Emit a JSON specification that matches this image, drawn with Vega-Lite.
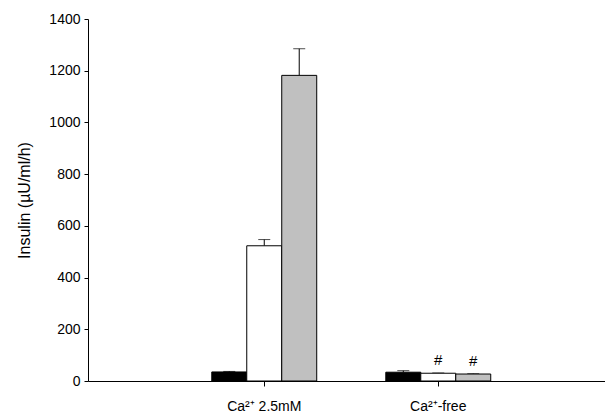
{
  "$schema": "https://vega.github.io/schema/vega-lite/v6.json",
  "width": 517,
  "height": 362,
  "autosize": "none",
  "padding": {"left": 88, "top": 19, "right": 0, "bottom": 36},
  "background": "white",
  "config": {
    "view": {"stroke": null},
    "font": "Liberation Sans"
  },
  "data": {
    "values": [
      {"condition": "Ca²⁺ 2.5mM", "group": "A", "insulin": 35, "upper": 37, "sig": ""},
      {"condition": "Ca²⁺ 2.5mM", "group": "B", "insulin": 523, "upper": 547, "sig": ""},
      {"condition": "Ca²⁺ 2.5mM", "group": "C", "insulin": 1182, "upper": 1285, "sig": ""},
      {"condition": "Ca²⁺-free", "group": "A", "insulin": 34, "upper": 40, "sig": ""},
      {"condition": "Ca²⁺-free", "group": "B", "insulin": 30, "upper": 31, "sig": "#"},
      {"condition": "Ca²⁺-free", "group": "C", "insulin": 27, "upper": 28, "sig": "#"}
    ]
  },
  "encoding": {
    "x": {
      "field": "condition",
      "type": "nominal",
      "sort": ["Ca²⁺ 2.5mM", "Ca²⁺-free"],
      "scale": {"paddingInner": 0.397, "paddingOuter": 0.684, "align": 0.52},
      "axis": {
        "title": null,
        "labelAngle": 0,
        "labelFontSize": 14,
        "labelColor": "black",
        "labelPadding": 13,
        "tickSize": 5,
        "tickColor": "black",
        "domainColor": "black",
        "grid": false
      }
    },
    "xOffset": {
      "field": "group",
      "type": "nominal",
      "sort": ["A", "B", "C"],
      "scale": {"paddingInner": 0, "paddingOuter": 0}
    }
  },
  "layer": [
    {
      "mark": {"type": "rule", "color": "black", "strokeWidth": 1},
      "encoding": {
        "y": {"field": "insulin", "type": "quantitative"},
        "y2": {"field": "upper"}
      }
    },
    {
      "mark": {"type": "tick", "color": "black", "size": 12, "thickness": 1},
      "encoding": {
        "y": {"field": "upper", "type": "quantitative"}
      }
    },
    {
      "mark": {"type": "bar", "stroke": "black", "strokeWidth": 1},
      "encoding": {
        "y": {
          "field": "insulin",
          "type": "quantitative",
          "scale": {"domain": [0, 1400], "nice": false},
          "axis": {
            "title": "Insulin (µU/ml/h)",
            "titleFontSize": 16,
            "titleFontWeight": "normal",
            "titleColor": "black",
            "titlePadding": 16,
            "values": [0, 200, 400, 600, 800, 1000, 1200, 1400],
            "format": "d",
            "labelFontSize": 14,
            "labelColor": "black",
            "labelPadding": 4,
            "tickSize": 4,
            "tickColor": "black",
            "domainColor": "black",
            "grid": false
          }
        },
        "fill": {
          "field": "group",
          "type": "nominal",
          "scale": {"domain": ["A", "B", "C"], "range": ["#000000", "#ffffff", "#c0c0c0"]},
          "legend": null
        }
      }
    },
    {
      "transform": [{"filter": "datum.sig != ''"}],
      "mark": {"type": "text", "baseline": "bottom", "dy": -5, "fontSize": 15, "color": "black"},
      "encoding": {
        "y": {"field": "upper", "type": "quantitative"},
        "text": {"field": "sig"}
      }
    }
  ]
}
